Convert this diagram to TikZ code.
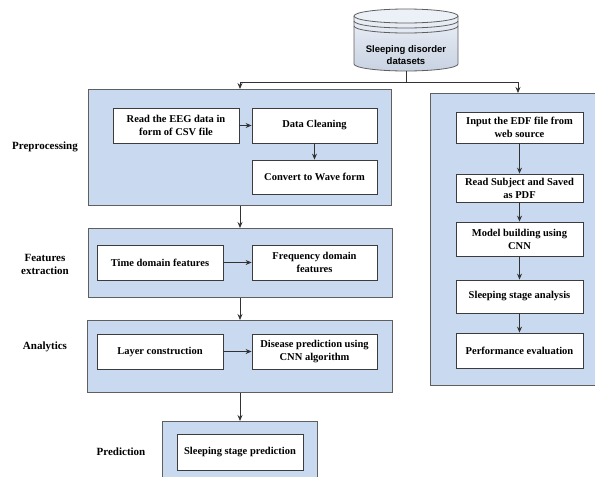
\documentclass[tikz,border=0pt]{standalone}
\usepackage{fontspec}
\setmainfont{Liberation Serif}
\newfontfamily\cylfont{Liberation Sans}
\usetikzlibrary{arrows.meta}
\definecolor{panelfill}{RGB}{201,218,240}
\definecolor{panelline}{RGB}{95,95,95}
\definecolor{boxline}{RGB}{60,60,60}
\definecolor{arrowcol}{RGB}{50,50,50}
\definecolor{cyltop}{RGB}{236,240,247}
\definecolor{cylbot}{RGB}{200,210,226}
\tikzset{
  panel/.style={draw=panelline, fill=panelfill, line width=0.9pt, anchor=north west, inner sep=0pt},
  stepbox/.style={draw=boxline, fill=white, line width=0.8pt, align=center, inner sep=2pt,
    font=\fontsize{10.5}{13}\selectfont\bfseries},
  lbl/.style={align=center, font=\fontsize{11}{13}\selectfont\bfseries},
  conn/.style={draw=arrowcol, line width=0.8pt},
  arr/.style={conn, -{Stealth[length=6pt,width=5pt]}},
}
\begin{document}
\begin{tikzpicture}[x=1pt,y=-1pt]
\useasboundingbox (0,0) rectangle (595,477);
\clip (0,0) rectangle (595,477);
% cylinder
\shade[top color=cyltop, bottom color=cylbot]
  (354,16) -- (354,64) arc[start angle=180,end angle=0,x radius=52,y radius=7]
  -- (458,16) arc[start angle=0,end angle=180,x radius=52,y radius=7] -- cycle;
\draw[panelline, line width=0.8pt]
  (354,16) -- (354,64) arc[start angle=180,end angle=0,x radius=52,y radius=7] -- (458,16);
\draw[panelline, line width=0.8pt, fill=cyltop] (406,16) ellipse[x radius=52, y radius=7];
\draw[panelline, line width=0.8pt] (354,21) arc[start angle=180,end angle=0,x radius=52,y radius=7];
\draw[panelline, line width=0.8pt] (354,26) arc[start angle=180,end angle=0,x radius=52,y radius=7];
\node[align=center, font=\cylfont\fontsize{9.5}{11.5}\selectfont\bfseries] (db) at (406,55) {Sleeping disorder\\datasets};
\coordinate (dbbot) at (406,71);
\coordinate (split) at (406,82);
\coordinate (splitL) at (240,82);
\coordinate (splitR) at (518,82);

% panels
\node[panel, minimum width=303, minimum height=116] (P1) at (88,89) {};
\node[panel, minimum width=304, minimum height=69] (P2) at (88,228) {};
\node[panel, minimum width=305, minimum height=72] (P3) at (87,320) {};
\node[panel, minimum width=155, minimum height=70] (P4) at (162,421) {};
\node[panel, minimum width=175, minimum height=292] (PR) at (430,93) {};

% labels
\node[lbl] (L1) at (45,147) {Preprocessing};
\node[lbl] (L2) at (45,264) {Features\\extraction};
\node[lbl] (L3) at (45,347) {Analytics};
\node[lbl] (L4) at (121,452) {Prediction};

% preprocessing
\node[stepbox, minimum width=126, minimum height=35] (n1) at (176,125.5) {Read the EEG data in\\form of CSV file};
\node[stepbox, minimum width=125, minimum height=35] (n2) at (314.5,125.5) {Data Cleaning};
\node[stepbox, minimum width=125, minimum height=34] (n3) at (314.5,177) {Convert to Wave form};
% features
\node[stepbox, minimum width=126, minimum height=35] (t1) at (160,262.5) {Time domain features};
\node[stepbox, minimum width=125, minimum height=35] (t2) at (314.5,262.5) {Frequency domain\\features};
% analytics
\node[stepbox, minimum width=126, minimum height=35] (a1) at (160,351.5) {Layer construction};
\node[stepbox, minimum width=125, minimum height=35] (a2) at (314.5,351.5) {Disease prediction using\\CNN algorithm};
% prediction
\node[stepbox, minimum width=126, minimum height=36] (p1) at (240,452) {Sleeping stage prediction};
% right column
\node[stepbox, minimum width=127, minimum height=31] (r1) at (519.5,127.5) {Input the EDF file from\\web source};
\node[stepbox, minimum width=127, minimum height=28] (r2) at (519.5,188) {Read Subject and Saved\\as PDF};
\node[stepbox, minimum width=127, minimum height=34] (r3) at (519.5,239) {Model building using\\CNN};
\node[stepbox, minimum width=127, minimum height=33] (r4) at (519.5,296.5) {Sleeping stage analysis};
\node[stepbox, minimum width=127, minimum height=35] (r5) at (519.5,350.5) {Performance evaluation};

% connectors
\draw[conn] (dbbot) -- (split);
\draw[conn] (splitL) -- (splitR);
\draw[arr] (splitL) -- (splitL |- P1.north);
\draw[arr] (splitR) -- (splitR |- PR.north);
\draw[arr] (n1) -- (n2);
\draw[arr] (n2) -- (n3);
\draw[arr] (t1) -- (t2);
\draw[arr] (a1) -- (a2);
\draw[arr] (P1.south -| splitL) -- (P2.north -| splitL);
\draw[arr] (P2.south -| splitL) -- (P3.north -| splitL);
\draw[arr] (P3.south -| splitL) -- (P4.north -| splitL);
\draw[arr] (r1) -- (r2);
\draw[arr] (r2) -- (r3);
\draw[arr] (r3) -- (r4);
\draw[arr] (r4) -- (r5);
\end{tikzpicture}
\end{document}
